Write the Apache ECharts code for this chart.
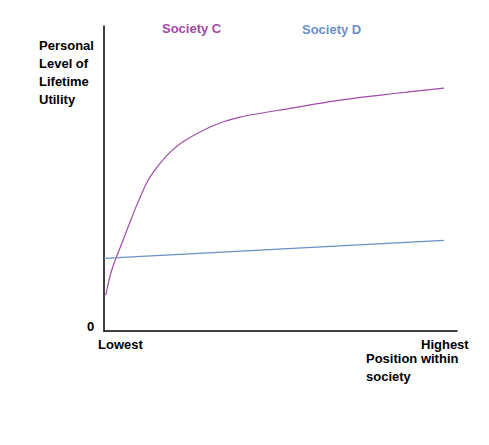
<!DOCTYPE html>
<html>
<head>
<meta charset="utf-8">
<script src="https://cdn.jsdelivr.net/npm/echarts@6/dist/echarts.min.js"></script>
<style>
  html, body { margin: 0; padding: 0; background: #fff; }
  #chart { width: 489px; height: 445px; }
</style>
</head>
<body>
<div id="chart"></div>
<script>
// position within society (0 = lowest, 100 = highest), utility on the same 0-100 scale
const societyC = [
  [0.5, 11.8], [2.2, 20.0], [5.5, 30.1], [7.6, 36.4], [9.4, 41.6],
  [12.3, 49.0], [15.1, 53.8], [18.9, 58.8], [22.7, 62.3], [30.9, 67.3],
  [38.5, 70.1], [52.7, 73.0], [66.9, 75.7], [81.0, 77.7], [96.3, 79.6]
];
const societyD = [[0, 23.8], [96.3, 29.7]];
const seriesNames = ['Society C', 'Society D'];
const xLabels = ['Lowest', 'Highest'];

const font = '"Liberation Sans", Arial, sans-serif';
const purple = '#a04aa8';
const blue = '#6d8fc6';

function label(text, left, top, color, lineHeight) {
  return {
    type: 'text',
    left: left,
    top: top,
    style: {
      text: text,
      fill: color || '#000',
      font: 'bold 13px ' + font,
      lineHeight: lineHeight || 18
    }
  };
}

const chart = echarts.init(document.getElementById('chart'), null, { renderer: 'svg' });
chart.setOption({
  animation: false,
  backgroundColor: '#fff',
  grid: { left: 104, top: 26, right: 32, bottom: 114 },
  xAxis: {
    type: 'value', min: 0, max: 100,
    axisLine: { show: true, lineStyle: { color: '#000', width: 1.5 } },
    axisTick: { show: false }, axisLabel: { show: false }, splitLine: { show: false }
  },
  yAxis: {
    type: 'value', min: 0, max: 100,
    axisLine: { show: true, lineStyle: { color: '#000', width: 1.5 } },
    axisTick: { show: false }, axisLabel: { show: false }, splitLine: { show: false }
  },
  series: [
    {
      name: seriesNames[0], type: 'line', data: societyC, smooth: 0.3,
      symbol: 'none', lineStyle: { color: purple, width: 1.2 }
    },
    {
      name: seriesNames[1], type: 'line', data: societyD,
      symbol: 'none', lineStyle: { color: blue, width: 1.2 }
    }
  ],
  graphic: [
    label('Personal\nLevel of\nLifetime\nUtility', 39, 36),
    label(seriesNames[0], 162, 19, purple),
    label(seriesNames[1], 302, 20, blue),
    label('0', 87, 317),
    label(xLabels[0], 98, 335),
    label(xLabels[1], 421, 335),
    label('Position within\nsociety', 366, 349, '#000', 18)
  ]
});
</script>
</body>
</html>
